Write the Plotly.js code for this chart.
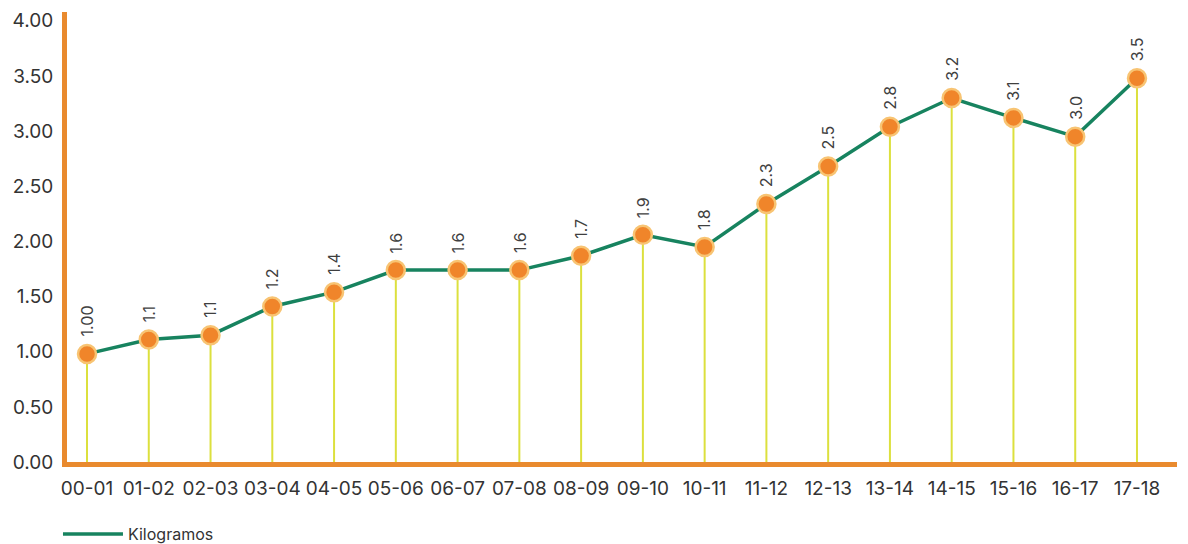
<!DOCTYPE html>
<html>
<head>
<meta charset="utf-8">
<script src="https://cdn.plot.ly/plotly-3.0.1.min.js"></script>
<style>
  html, body { margin: 0; padding: 0; background: #ffffff; }
  #chart { width: 1188px; height: 544px; }
</style>
</head>
<body>
<div id="chart"></div>
<script>
// Temporadas (categorías del eje X)
const temporadas = ["00-01","01-02","02-03","03-04","04-05","05-06","06-07","07-08","08-09",
                    "09-10","10-11","11-12","12-13","13-14","14-15","15-16","16-17","17-18"];
// Kilogramos (posición de cada punto)
const kilogramos = [0.98, 1.11, 1.15, 1.41, 1.54, 1.74, 1.74, 1.74, 1.87,
                    2.06, 1.95, 2.34, 2.68, 3.04, 3.30, 3.12, 2.95, 3.48];
// Etiquetas de datos tal como aparecen en la gráfica
const etiquetas = ["1.00","1.1","1.1","1.2","1.4","1.6","1.6","1.6","1.7",
                   "1.9","1.8","2.3","2.5","2.8","3.2","3.1","3.0","3.5"];
// Marcas del eje Y
const yTicks = [0, 0.5, 1, 1.5, 2, 2.5, 3, 3.5, 4];
const yTickText = ["0.00","0.50","1.00","1.50","2.00","2.50","3.00","3.50","4.00"];
const serieNombre = "Kilogramos";

const FONT = "Inter, 'DejaVu Sans', sans-serif";
const ORANGE_AXIS = "#E98A2E";
const GREEN = "#17835F";
const STEM = "#DCE03E";

const mainTrace = {
  type: "scatter",
  mode: "lines+markers",
  x: temporadas,
  y: kilogramos,
  showlegend: false,
  line: { color: GREEN, width: 3.5 },
  marker: {
    size: 18,
    color: "#F0852A",
    line: { color: "#F8C473", width: 2.5 }
  },
  error_y: {
    type: "data",
    symmetric: false,
    array: kilogramos.map(() => 0),
    arrayminus: kilogramos,
    width: 0,
    thickness: 2,
    color: STEM
  },
  hoverinfo: "x+y"
};

const legendTrace = {
  type: "scatter",
  mode: "lines",
  x: [null],
  y: [null],
  name: serieNombre,
  showlegend: true,
  line: { color: GREEN, width: 3.5 }
};

const annotations = temporadas.map((t, i) => ({
  x: t,
  y: kilogramos[i],
  xref: "x",
  yref: "y",
  text: etiquetas[i],
  showarrow: false,
  textangle: -90,
  xanchor: "center",
  yanchor: "bottom",
  yshift: 15,
  font: { family: FONT, size: 16, color: "#3f3f3f" }
}));

const layout = {
  width: 1188,
  height: 544,
  margin: { l: 67, r: 11, t: 12, b: 82 },
  paper_bgcolor: "#ffffff",
  plot_bgcolor: "#ffffff",
  font: { family: FONT, color: "#3a3a3a" },
  xaxis: {
    type: "category",
    range: [-0.324, 17.648],
    showgrid: false,
    zeroline: false,
    showline: true,
    linecolor: ORANGE_AXIS,
    linewidth: 5,
    ticks: "",
    tickfont: { family: FONT, size: 19, color: "#333333" },
    ticklabelstandoff: 5,
    automargin: false,
    fixedrange: true
  },
  yaxis: {
    range: [0, 4.08],
    tickvals: yTicks,
    ticktext: yTickText,
    showgrid: false,
    zeroline: false,
    showline: true,
    linecolor: ORANGE_AXIS,
    linewidth: 5,
    ticks: "",
    tickfont: { family: FONT, size: 19, color: "#333333" },
    ticklabelstandoff: 5,
    automargin: false,
    fixedrange: true
  },
  showlegend: true,
  legend: {
    orientation: "h",
    xref: "container",
    yref: "container",
    x: 0.0488,
    xanchor: "left",
    y: 0.018,
    yanchor: "middle",
    font: { family: FONT, size: 16, color: "#333333" },
    itemwidth: 60,
    bgcolor: "rgba(0,0,0,0)"
  },
  annotations: annotations
};

Plotly.newPlot("chart", [mainTrace, legendTrace], layout, { displayModeBar: false, staticPlot: true });
</script>
</body>
</html>
